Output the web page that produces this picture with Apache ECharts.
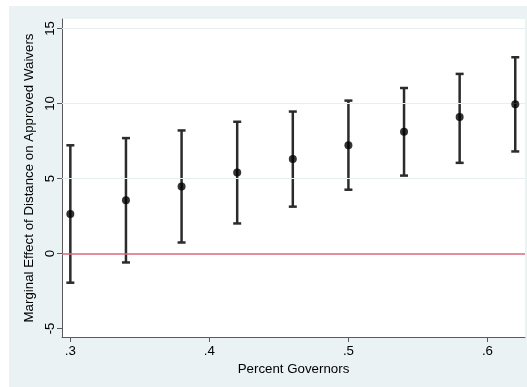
<!DOCTYPE html>
<html>
<head>
<meta charset="utf-8">
<script src="https://cdn.jsdelivr.net/npm/echarts@6/dist/echarts.min.js"></script>
<style>
  html, body { margin: 0; padding: 0; background: #ffffff; }
  #chart { width: 527px; height: 387px; }
</style>
</head>
<body>
<div id="chart"></div>
<script>
// Percent governors at which the marginal effect is evaluated
const pctGovernors = [0.30, 0.34, 0.38, 0.42, 0.46, 0.50, 0.54, 0.58, 0.62];
// Point estimates of the marginal effect
const effect = [2.63, 3.55, 4.47, 5.39, 6.30, 7.22, 8.11, 9.10, 9.95];
// 95% confidence bounds
const lower = [-1.95, -0.60, 0.73, 2.00, 3.12, 4.25, 5.19, 6.04, 6.80];
const upper = [7.21, 7.69, 8.20, 8.78, 9.46, 10.19, 11.03, 11.97, 13.08];
// Axis tick labels
const xTicks = [0.3, 0.4, 0.5, 0.6];
const xTickLabels = ['.3', '.4', '.5', '.6'];
const yTicks = [-5, 0, 5, 10, 15];
const yGrid = [5, 10, 15];

const font = 'Liberation Sans, Arial, Helvetica, sans-serif';
const fs = 13.3;
const chart = echarts.init(document.getElementById('chart'), null, { renderer: 'canvas' });

const pointData = pctGovernors.map((x, i) => [x, effect[i]]);
const ciData = pctGovernors.map((x, i) => [x, lower[i], upper[i]]);

chart.setOption({
  animation: false,
  backgroundColor: '#ffffff',
  graphic: [{
    type: 'rect', z: -10, silent: true,
    shape: { x: 9, y: 6, width: 518, height: 381 },
    style: { fill: '#eaf2f3' }
  }],
  grid: {
    left: 62, top: 19, right: 2, bottom: 50,
    show: true, backgroundColor: '#ffffff', borderWidth: 0
  },
  xAxis: {
    type: 'value', min: 0.294, max: 0.627,
    name: 'Percent Governors', nameLocation: 'middle', nameGap: 24,
    nameTextStyle: { fontFamily: font, fontSize: fs, color: '#000' },
    axisLine: { show: true, onZero: false, lineStyle: { color: '#5a5a5a', width: 1 } },
    axisTick: { show: true, length: 5, customValues: xTicks, lineStyle: { color: '#5a5a5a' } },
    axisLabel: {
      customValues: xTicks, margin: 8,
      fontFamily: font, fontSize: fs, color: '#000',
      formatter: v => xTickLabels[xTicks.findIndex(t => Math.abs(t - v) < 1e-9)] ?? ''
    },
    splitLine: { show: false }
  },
  yAxis: {
    type: 'value', min: -5.57, max: 15.63,
    name: 'Marginal Effect of Distance on Approved Waivers',
    nameLocation: 'middle', nameGap: 19, nameRotate: 90,
    nameTextStyle: { fontFamily: font, fontSize: fs, color: '#000' },
    axisLine: { show: true, onZero: false, lineStyle: { color: '#5a5a5a', width: 1 } },
    axisTick: { show: true, length: 5, customValues: yTicks, lineStyle: { color: '#5a5a5a' } },
    axisLabel: {
      customValues: yTicks, rotate: 90, margin: 5,
      fontFamily: font, fontSize: fs, color: '#000'
    },
    splitLine: { show: false }
  },
  series: [
    {
      // faint horizontal grid lines
      type: 'line', data: [], silent: true,
      markLine: {
        silent: true, symbol: 'none', label: { show: false },
        lineStyle: { color: '#e6eff0', width: 1, type: 'solid' },
        data: yGrid.map(v => ({ yAxis: v }))
      }
    },
    {
      // reference line at zero
      type: 'line', data: [], silent: true, z: 3,
      markLine: {
        silent: true, symbol: 'none', label: { show: false },
        lineStyle: { color: '#d8687c', width: 1.5, type: 'solid' },
        data: [{ yAxis: 0 }]
      }
    },
    {
      // confidence intervals with caps
      type: 'custom', z: 4,
      data: ciData,
      renderItem: (params, api) => {
        const x = api.value(0);
        const lo = api.coord([x, api.value(1)]);
        const hi = api.coord([x, api.value(2)]);
        const cap = 4;
        const style = { stroke: '#2b2b2b', lineWidth: 2.5 };
        return {
          type: 'group',
          children: [
            { type: 'line', shape: { x1: lo[0], y1: lo[1], x2: hi[0], y2: hi[1] }, style },
            { type: 'line', shape: { x1: lo[0] - cap, y1: lo[1], x2: lo[0] + cap, y2: lo[1] }, style },
            { type: 'line', shape: { x1: hi[0] - cap, y1: hi[1], x2: hi[0] + cap, y2: hi[1] }, style }
          ]
        };
      }
    },
    {
      type: 'scatter', z: 5,
      data: pointData,
      symbol: 'circle', symbolSize: 8,
      itemStyle: { color: '#000000' }
    }
  ]
});
</script>
</body>
</html>
